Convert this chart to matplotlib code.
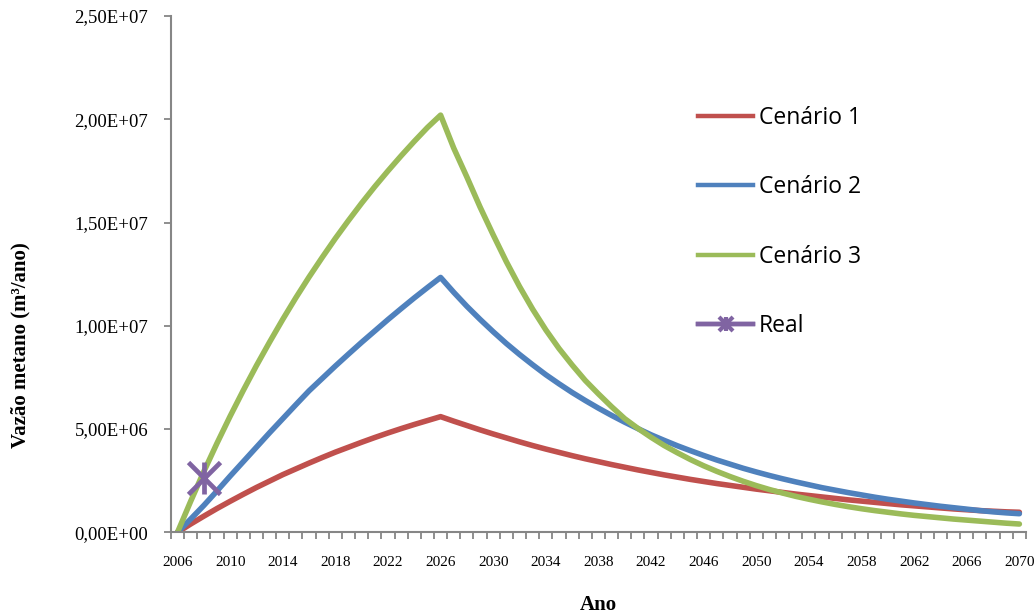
import matplotlib
matplotlib.use("Agg")
import matplotlib.pyplot as plt
from matplotlib.lines import Line2D
from matplotlib.legend_handler import HandlerTuple

# Values (million m3/year), one per year
years = list(range(2006, 2071))

cenario_1 = [0.00, 0.40, 0.78, 1.15, 1.50, 1.84, 2.17, 2.48, 2.79, 3.07,
             3.35, 3.62, 3.88, 4.12, 4.36, 4.59, 4.81, 5.02, 5.22, 5.41,
             5.60, 5.38, 5.17, 4.96, 4.76, 4.57, 4.38, 4.20, 4.03, 3.87,
             3.71, 3.56, 3.42, 3.28, 3.15, 3.02, 2.90, 2.78, 2.67, 2.56,
             2.46, 2.36, 2.27, 2.18, 2.09, 2.01, 1.93, 1.85, 1.78, 1.71,
             1.64, 1.57, 1.51, 1.45, 1.39, 1.33, 1.28, 1.23, 1.18, 1.13,
             1.09, 1.05, 1.02, 0.99, 0.97]
cenario_2 = [0.00, 0.64, 1.30, 2.00, 2.72, 3.42, 4.12, 4.82, 5.50, 6.18,
             6.85, 7.45, 8.05, 8.63, 9.20, 9.75, 10.30, 10.83, 11.35, 11.85,
             12.34, 11.62, 10.94, 10.31, 9.71, 9.14, 8.61, 8.11, 7.63, 7.19,
             6.77, 6.38, 6.01, 5.66, 5.33, 5.02, 4.72, 4.45, 4.19, 3.95,
             3.72, 3.50, 3.30, 3.10, 2.92, 2.75, 2.59, 2.44, 2.30, 2.16,
             2.04, 1.92, 1.81, 1.70, 1.60, 1.51, 1.42, 1.34, 1.26, 1.19,
             1.12, 1.05, 0.99, 0.94, 0.90]
cenario_3 = [0.00, 1.50, 2.94, 4.31, 5.62, 6.87, 8.07, 9.21, 10.31, 11.36,
             12.36, 13.31, 14.23, 15.10, 15.94, 16.74, 17.50, 18.23, 18.93, 19.60,
             20.20, 18.60, 17.20, 15.75, 14.40, 13.10, 11.90, 10.80, 9.80, 8.90,
             8.10, 7.35, 6.70, 6.08, 5.50, 5.03, 4.60, 4.20, 3.85, 3.52,
             3.22, 2.95, 2.70, 2.47, 2.26, 2.07, 1.90, 1.74, 1.60, 1.47,
             1.35, 1.24, 1.14, 1.05, 0.97, 0.89, 0.82, 0.76, 0.70, 0.64,
             0.59, 0.54, 0.49, 0.44, 0.40]
real_year = [2008]
real_value = [2.65]

labels = ["Cenário 1", "Cenário 2", "Cenário 3", "Real"]
colors = ["#C0504D", "#4F81BD", "#9BBB59", "#8064A2"]
tick_years = list(range(2006, 2071, 4))

SCALE = 1e6
SERIF = "Liberation Serif"
AXIS_GREY = "#868686"


def sci_comma(v, _):
    """Excel style 0,00E+00 label."""
    return f"{v:.2E}".replace(".", ",")


def draw_chart():
    fig = plt.figure(figsize=(10.36, 6.15), dpi=100)
    ax = fig.add_axes([0.165, 0.1345, 0.8253, 0.8395])

    for values, color in zip([cenario_1, cenario_2, cenario_3], colors[:3]):
        ax.plot(years, [v * SCALE for v in values], color=color, lw=4.0,
                solid_joinstyle="round", solid_capstyle="round")

    # Excel "star" marker: an x with a vertical bar through it
    real_y = [v * SCALE for v in real_value]
    for m in ["x", "|"]:
        ax.plot(real_year, real_y, ls="none", marker=m, ms=23, mew=3.4,
                color=colors[3])

    ax.set_xlim(2005.5, 2070.5)
    ax.set_ylim(0, 2.5e7)
    ax.set_yticks([0, 5e6, 1e7, 1.5e7, 2e7, 2.5e7])
    ax.yaxis.set_major_formatter(plt.FuncFormatter(sci_comma))
    ax.set_xticks(tick_years)
    ax.set_xticks([y + 0.5 for y in range(2005, 2071)], minor=True)

    for side in ["top", "right"]:
        ax.spines[side].set_visible(False)
    for side in ["left", "bottom"]:
        ax.spines[side].set_color(AXIS_GREY)
        ax.spines[side].set_linewidth(1.5)

    ax.tick_params(axis="x", which="major", length=0, pad=17)
    ax.tick_params(axis="x", which="minor", length=5, width=1.3,
                   color=AXIS_GREY, direction="out")
    ax.tick_params(axis="y", which="major", length=5, width=1.3,
                   color=AXIS_GREY, direction="out", pad=11.5)
    for lab in ax.get_xticklabels():
        lab.set_fontfamily(SERIF)
        lab.set_fontsize(11)
    for lab in ax.get_yticklabels():
        lab.set_fontfamily(SERIF)
        lab.set_fontsize(13.5)

    fig.text(598 / 1036, 1 - 605 / 615, "Ano", ha="center", va="center",
             fontfamily=SERIF, fontsize=15, fontweight="bold")
    fig.text(20 / 1036, 1 - 345 / 615, "Vazão metano (m³/ano)", ha="center",
             va="center", rotation=90, fontfamily=SERIF, fontsize=15,
             fontweight="bold")

    handles = [Line2D([], [], color=c, lw=3.2) for c in colors[:3]]
    real_handle = (Line2D([], [], color=colors[3], lw=3.2, marker="x", ms=10, mew=3),
                   Line2D([], [], color=colors[3], lw=3.2, marker="|", ms=10, mew=3))
    handles.append(real_handle)
    fig.legend(handles, labels, loc="upper left",
               bbox_to_anchor=(698 / 1036, 1 - 106 / 615),
               frameon=False, prop={"family": "Open Sans", "size": 16.5},
               handlelength=2.4, handletextpad=0.25, labelspacing=1.98,
               borderpad=0, borderaxespad=0,
               handler_map={tuple: HandlerTuple(ndivide=1, pad=0)})
    return fig


if __name__ == "__main__":
    fig = draw_chart()
    fig.savefig("out.png", dpi=100)
